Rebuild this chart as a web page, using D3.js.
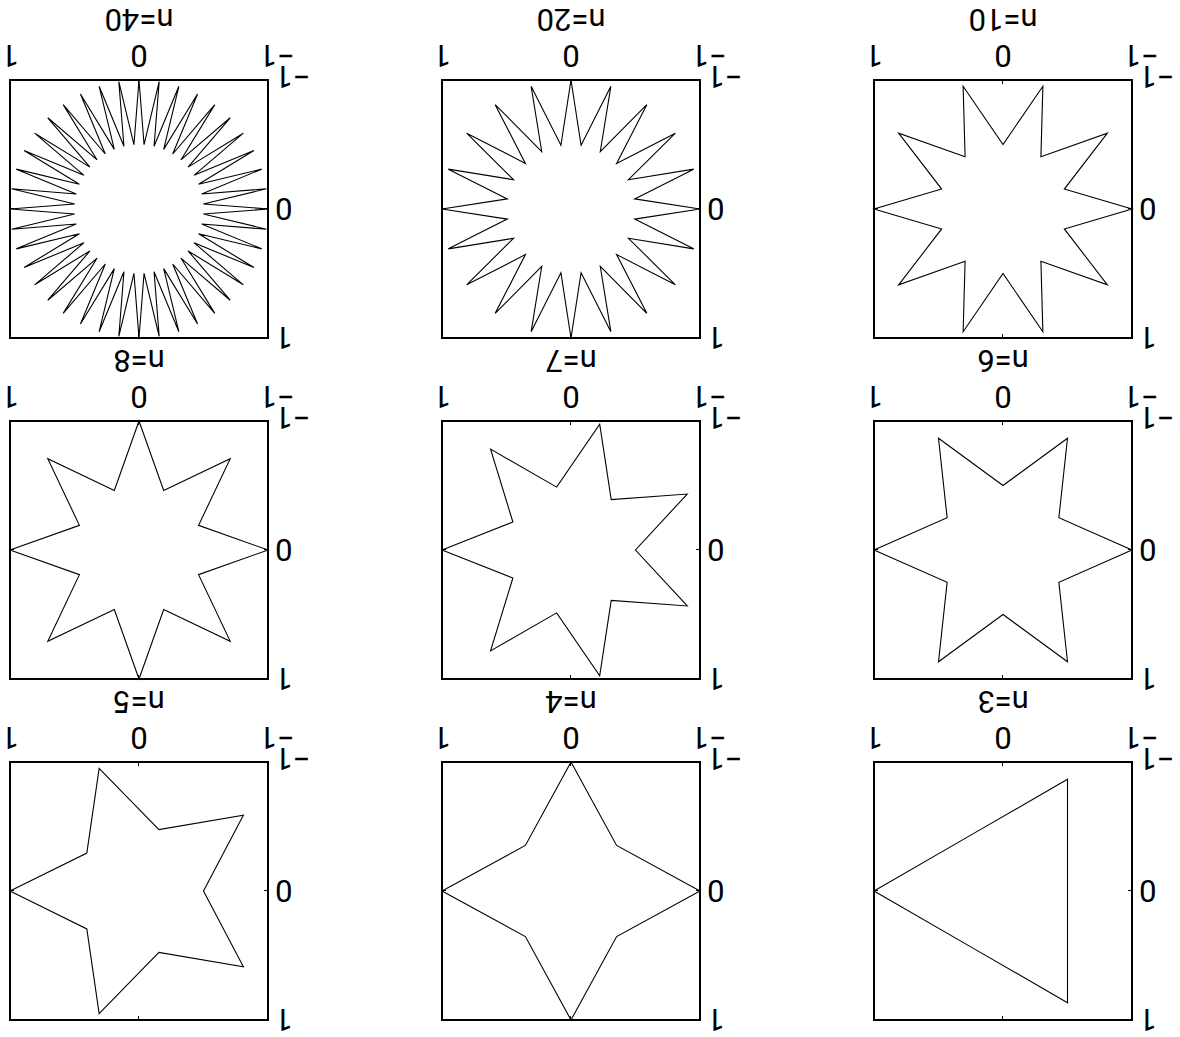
<!DOCTYPE html>
<html>
<head>
<meta charset="utf-8">
<script src="https://cdn.jsdelivr.net/npm/d3@7"></script>
<style>
  html, body { margin: 0; padding: 0; background: #fff; }
  svg { display: block; }
</style>
</head>
<body>
<script>
// Star polygons: 2n vertices alternating between an outer and an inner radius.
const nValues = [3, 4, 5, 6, 7, 8, 10, 20, 40];
const panelTitles = ["n=3", "n=4", "n=5", "n=6", "n=7", "n=8", "n=10", "n=20", "n=40"];
const outerRadius = 1;
const innerRadius = 0.5;
const axisDomain = [-1, 1];
const tickValues = [-1, 0, 1];
const tickLabels = ["\u22121", "0", "1"];

const W = 1180, H = 1037;
const cols = 3;
const panelSize = 258;
const colStep = 432, rowStep = 341;
const left0 = 48, top0 = 17;
const fontSize = 31;
const fontFamily = "Roboto";

const svg = d3.select("body").append("svg")
  .attr("width", W).attr("height", H)
  .style("font-family", fontFamily);

// The whole figure is drawn turned half a revolution.
const root = svg.append("g")
  .attr("transform", `rotate(180 ${W / 2} ${H / 2})`);

function starPoints(n) {
  const pts = [];
  for (let k = 0; k < 2 * n; k++) {
    const r = k % 2 === 0 ? outerRadius : innerRadius;
    const a = k * Math.PI / n;
    pts.push([r * Math.cos(a), r * Math.sin(a)]);
  }
  return pts;
}

const fmt = v => tickLabels[tickValues.indexOf(v)];

nValues.forEach((n, i) => {
  const c = i % cols, r = Math.floor(i / cols);
  const x0 = left0 + c * colStep, y0 = top0 + r * rowStep;
  const x = d3.scaleLinear().domain(axisDomain).range([0, panelSize]);
  const y = d3.scaleLinear().domain(axisDomain).range([panelSize, 0]);
  const g = root.append("g").attr("transform", `translate(${x0},${y0})`);

  // star outline
  const line = d3.line().x(d => x(d[0])).y(d => y(d[1])).curve(d3.curveLinearClosed);
  g.append("path")
    .attr("d", line(starPoints(n)))
    .attr("fill", "none")
    .attr("stroke", "#000")
    .attr("stroke-width", 1.1)
    .attr("stroke-linejoin", "miter");

  // inward tick marks on all four sides
  const tk = 4;
  const axB = d3.axisBottom(x).tickValues(tickValues).tickSizeInner(-tk).tickSizeOuter(0).tickFormat("");
  const axT = d3.axisTop(x).tickValues(tickValues).tickSizeInner(-tk).tickSizeOuter(0).tickFormat("");
  const axL = d3.axisLeft(y).tickValues(tickValues).tickSizeInner(-tk).tickSizeOuter(0).tickFormat("");
  const axR = d3.axisRight(y).tickValues(tickValues).tickSizeInner(-tk).tickSizeOuter(0).tickFormat("");
  [[axB, `translate(0,${panelSize})`], [axT, null], [axL, null], [axR, `translate(${panelSize},0)`]]
    .forEach(([ax, tr]) => {
      const a = g.append("g").call(ax);
      if (tr) a.attr("transform", tr);
      a.select(".domain").remove();
      a.selectAll(".tick text").remove();
      a.selectAll(".tick line").attr("stroke", "#000").attr("stroke-width", 1);
    });

  // x tick labels
  g.append("g").selectAll("text").data(tickValues).join("text")
    .attr("x", d => x(d))
    .attr("dx", d => d < 0 ? -0.29 * fontSize : 0)
    .attr("y", panelSize + 24 + 0.355 * fontSize)
    .attr("text-anchor", "middle")
    .attr("font-size", fontSize)
    .attr("font-family", fontFamily)
    .text(fmt);

  // y tick labels
  g.append("g").selectAll("text").data(tickValues).join("text")
    .attr("x", -7)
    .attr("y", d => y(d) + 0.355 * fontSize + (d < 0 ? 3 : 0))
    .attr("text-anchor", "end")
    .attr("font-size", fontSize)
    .attr("font-family", fontFamily)
    .text(fmt);

  // panel label under the axis
  g.append("text")
    .attr("x", x(0))
    .attr("y", panelSize + 60 + 0.355 * fontSize)
    .attr("text-anchor", "middle")
    .attr("font-size", fontSize)
    .attr("font-family", fontFamily)
    .text(panelTitles[i]);

  // box
  g.append("rect")
    .attr("x", 0).attr("y", 0)
    .attr("width", panelSize).attr("height", panelSize)
    .attr("fill", "none")
    .attr("stroke", "#000")
    .attr("stroke-width", 2);
});
</script>
</body>
</html>
